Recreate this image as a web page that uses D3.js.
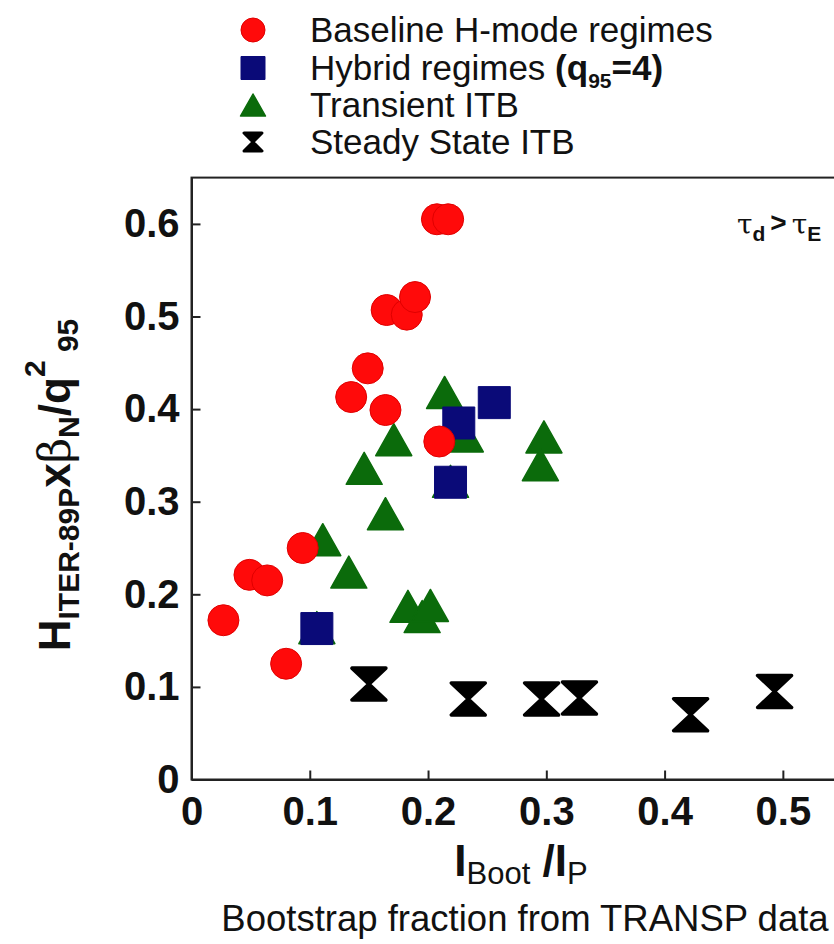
<!DOCTYPE html>
<html>
<head>
<meta charset="utf-8">
<script src="https://cdn.jsdelivr.net/npm/d3@7"></script>
<style>
  html, body { margin: 0; padding: 0; background: #fff; }
  svg { display: block; font-family: "Liberation Sans", Arial, Helvetica, sans-serif; }
</style>
</head>
<body>
<svg id="chart" width="834" height="944"></svg>
<script>
// Bootstrap fraction vs. normalised performance, by operating regime
const baselineX = [0.027, 0.049, 0.064, 0.080, 0.094, 0.135, 0.149, 0.164, 0.165, 0.182, 0.189, 0.2075, 0.217, 0.2095];
const baselineY = [0.172, 0.221, 0.215, 0.125, 0.250, 0.413, 0.444, 0.399, 0.507, 0.502, 0.521, 0.605, 0.605, 0.365];

const hybridX = [0.106, 0.226, 0.256, 0.219];
const hybridY = [0.163, 0.385, 0.407, 0.321];

const transientX = [0.106, 0.219, 0.111, 0.133, 0.146, 0.164, 0.171, 0.183, 0.195, 0.202, 0.214, 0.2315, 0.298, 0.295];
const transientY = [0.164, 0.322, 0.259, 0.224, 0.336, 0.287, 0.367, 0.187, 0.176, 0.188, 0.418, 0.371, 0.370, 0.340];

const steadyX = [0.150, 0.234, 0.296, 0.328, 0.422, 0.493];
const steadyY = [0.103, 0.087, 0.087, 0.088, 0.070, 0.095];

const xTicks = [0, 0.1, 0.2, 0.3, 0.4, 0.5];
const xTickLabels = ["0", "0.1", "0.2", "0.3", "0.4", "0.5"];
const yTicks = [0, 0.1, 0.2, 0.3, 0.4, 0.5, 0.6];
const yTickLabels = ["0", "0.1", "0.2", "0.3", "0.4", "0.5", "0.6"];

const legendLabels = ["Baseline H-mode regimes", "Hybrid regimes", "Transient ITB", "Steady State ITB"];

const RED = "#ff0a0a", NAVY = "#0a0a78", GREEN = "#0b6b0b", BLACK = "#000";

const svg = d3.select("#chart");

const x = d3.scaleLinear().domain([0, 0.55]).range([191.5, 842]);
const y = d3.scaleLinear().domain([0, 0.65]).range([779.5, 177.6]);

// marker outlines, centred on (0,0)
const circlePath = r => `M${-r},0A${r},${r} 0 1,0 ${r},0A${r},${r} 0 1,0 ${-r},0Z`;
const squarePath = (w, h) => `M${-w/2},${-h/2}H${w/2}V${h/2}H${-w/2}Z`;
const trianglePath = (w, h) => `M0,${-h/2}L${w/2},${h/2}L${-w/2},${h/2}Z`;
const hourglassPath = (w, h) => `M${-w/2},${-h/2}H${w/2}L0,0L${w/2},${h/2}H${-w/2}L0,0Z`;

// plot frame
svg.append("rect")
  .attr("x", x(0)).attr("y", y(0.65))
  .attr("width", x(0.55) - x(0)).attr("height", y(0) - y(0.65))
  .attr("fill", "none").attr("stroke", "#222").attr("stroke-width", 2);

// axes with inward ticks
const xAxis = svg.append("g")
  .attr("transform", `translate(0,${y(0)})`)
  .call(d3.axisBottom(x).tickValues(xTicks).tickFormat((d, i) => xTickLabels[i])
    .tickSizeInner(-9).tickSizeOuter(0).tickPadding(17));
const yAxis = svg.append("g")
  .attr("transform", `translate(${x(0)},0)`)
  .call(d3.axisLeft(y).tickValues(yTicks).tickFormat((d, i) => yTickLabels[i])
    .tickSizeInner(-9).tickSizeOuter(0).tickPadding(12));

[xAxis, yAxis].forEach(g => {
  g.select(".domain").attr("stroke", "#222").attr("stroke-width", 2);
  g.selectAll(".tick line").attr("stroke", "#222").attr("stroke-width", 2);
  g.selectAll(".tick text")
    .attr("fill", "#111")
    .style("font-size", "40px").style("font-weight", "bold")
    .style("font-family", "'Liberation Sans', Arial, sans-serif");
});

// data markers
const plot = svg.append("g");

function drawSeries(xs, ys, path, fill, stroke, sw) {
  plot.append("g").selectAll("path")
    .data(xs.map((v, i) => [v, ys[i]]))
    .join("path")
    .attr("d", path)
    .attr("transform", d => `translate(${x(d[0])},${y(d[1])})`)
    .attr("fill", fill)
    .attr("stroke", stroke)
    .attr("stroke-width", sw)
    .attr("stroke-linejoin", "round");
}

drawSeries(transientX, transientY, trianglePath(36, 32), GREEN, GREEN, 1.5);
drawSeries(hybridX, hybridY, squarePath(32, 32), NAVY, NAVY, 1);
drawSeries(baselineX, baselineY, circlePath(15.5), RED, "#e00000", 1);
drawSeries(steadyX, steadyY, hourglassPath(34, 32), BLACK, BLACK, 3.5);

// legend
const legend = svg.append("g");
const legendMarks = [
  { d: circlePath(12), fill: RED, stroke: "#e00000", sw: 1 },
  { d: squarePath(24, 23), fill: NAVY, stroke: NAVY, sw: 1 },
  { d: trianglePath(25, 22), fill: GREEN, stroke: GREEN, sw: 1.5 },
  { d: hourglassPath(18, 18), fill: BLACK, stroke: BLACK, sw: 3 }
];
const legendRowY = [30, 68, 105, 142];

legendLabels.forEach((label, i) => {
  const m = legendMarks[i];
  legend.append("path")
    .attr("d", m.d)
    .attr("transform", `translate(253,${legendRowY[i]})`)
    .attr("fill", m.fill).attr("stroke", m.stroke)
    .attr("stroke-width", m.sw).attr("stroke-linejoin", "round");
  const t = legend.append("text")
    .attr("x", 310).attr("y", legendRowY[i] + 12)
    .attr("fill", "#111")
    .style("font-size", "35px");
  t.append("tspan").text(label);
  if (i === 1) {
    t.append("tspan").text(" (q").style("font-weight", "bold");
    t.append("tspan").text("95").attr("dy", 8).style("font-size", "21px").style("font-weight", "bold");
    t.append("tspan").text("=4)").attr("dy", -8).style("font-weight", "bold");
  }
});

// corner annotation: tau_d > tau_E
const tau = svg.append("text")
  .attr("x", 737).attr("y", 234)
  .attr("fill", "#111")
  .style("font-size", "28px");
tau.append("tspan").text("τ").style("font-family", "'DejaVu Serif', serif");
tau.append("tspan").text("d").attr("dy", 7).style("font-size", "21px").style("font-weight", "bold");
tau.append("tspan").text(">").attr("dx", 5).attr("dy", -9).style("font-weight", "bold");
tau.append("tspan").text("τ").attr("dx", 5).attr("dy", 2).style("font-family", "'DejaVu Serif', serif");
tau.append("tspan").text("E").attr("dy", 7).style("font-size", "21px").style("font-weight", "bold");

// x-axis title
const xTitle = svg.append("text")
  .attr("x", 521).attr("y", 876)
  .attr("text-anchor", "middle")
  .attr("fill", "#111")
  .style("font-size", "44px").style("font-weight", "bold");
xTitle.append("tspan").text("I");
xTitle.append("tspan").text("Boot").attr("dy", 8).style("font-size", "31px").style("font-weight", "normal");
xTitle.append("tspan").text(" /I").attr("dy", -8);
xTitle.append("tspan").text("P").attr("dy", 8).style("font-size", "31px").style("font-weight", "normal");

// caption below the x title
svg.append("text")
  .attr("x", 525).attr("y", 931)
  .attr("text-anchor", "middle")
  .attr("fill", "#111")
  .style("font-size", "36.5px")
  .text("Bootstrap fraction from TRANSP data");

// y-axis title
const yTitle = svg.append("text")
  .attr("transform", "translate(70,485) rotate(-90)")
  .attr("text-anchor", "middle")
  .attr("fill", "#111")
  .style("font-size", "44px").style("font-weight", "bold");
yTitle.append("tspan").text("H");
yTitle.append("tspan").text("ITER-89P").attr("dy", 9).style("font-size", "30px");
yTitle.append("tspan").text("x").attr("dy", -9);
yTitle.append("tspan").text("β").style("font-weight", "normal").style("font-family", "'DejaVu Serif', serif");
yTitle.append("tspan").text("N").attr("dy", 9).style("font-size", "30px");
yTitle.append("tspan").text("/q").attr("dy", -9);
yTitle.append("tspan").text("2").attr("dy", -25).style("font-size", "30px");
yTitle.append("tspan").text(" 95").attr("dy", 33).style("font-size", "30px");
</script>
</body>
</html>
